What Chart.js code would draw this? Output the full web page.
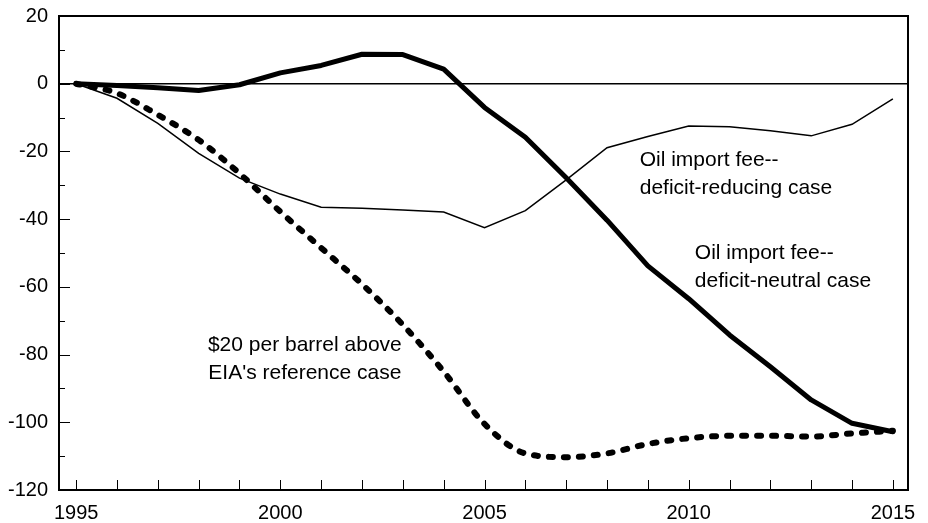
<!DOCTYPE html>
<html>
<head>
<meta charset="utf-8">
<script src="https://cdn.jsdelivr.net/npm/chart.js@4/dist/chart.umd.min.js"></script>
<style>
  html, body { margin: 0; padding: 0; background: #fff; }
</style>
</head>
<body>
<canvas id="lineCanvas" width="928" height="523"></canvas>
<script>
const years = [1995, 1996, 1997, 1998, 1999, 2000, 2001, 2002, 2003, 2004, 2005,
  2006, 2007, 2008, 2009, 2010, 2011, 2012, 2013, 2014, 2015];

// oil import fee, deficit-neutral case (thick line)
const deficitNeutral = [0, -0.5, -1.2, -2.0, -0.3, 3.2, 5.4, 8.7, 8.6, 4.3, -7.0,
  -15.8, -27.8, -40.3, -53.8, -63.5, -74.2, -83.6, -93.4, -100.3, -102.8];

// oil import fee, deficit-reducing case (thin line)
const deficitReducing = [0, -4.3, -11.7, -20.6, -27.9, -32.6, -36.5, -36.8, -37.3, -37.9, -42.5,
  -37.5, -28.4, -18.9, -15.6, -12.5, -12.7, -13.9, -15.4, -12.0, -4.5];

// $20 per barrel above EIA's reference case (dotted line)
const priceAbove = [0, -2.8, -9.2, -16.6, -26.5, -37.8, -48.5, -59.2, -71.2, -85.0, -100.5,
  -109.2, -110.3, -109.2, -106.4, -104.7, -104.0, -104.0, -104.2, -103.3, -102.5];

const xLabels = [1995, 2000, 2005, 2010, 2015];
const yLabels = [-120, -100, -80, -60, -40, -20, 0, 20];

const notes = [
  { lines: ["Oil import fee--", "deficit-reducing case"], x: 2008.8, y: -22.5, align: "left" },
  { lines: ["Oil import fee--", "deficit-neutral case"], x: 2010.15, y: -50, align: "left" },
  { lines: ["$20 per barrel above", "EIA's reference case"], x: 2000.6, y: -77.2, align: "center" },
];

const family = "'Liberation Sans', Arial, sans-serif";

const frameAndNotes = {
  id: "frameAndNotes",
  afterDraw(chart) {
    const { ctx, chartArea: a, scales: { x, y } } = chart;
    ctx.save();
    ctx.strokeStyle = "#000";

    // zero line
    const y0 = y.getPixelForValue(0);
    ctx.lineWidth = 1.5;
    ctx.beginPath();
    ctx.moveTo(a.left, y0);
    ctx.lineTo(a.right, y0);
    ctx.stroke();

    // inward tick marks
    ctx.lineWidth = 1;
    ctx.beginPath();
    x.ticks.forEach(t => {
      const px = Math.round(x.getPixelForValue(t.value)) + 0.5;
      ctx.moveTo(px, a.bottom);
      ctx.lineTo(px, a.bottom - 10);
    });
    y.ticks.forEach(t => {
      const py = Math.round(y.getPixelForValue(t.value)) + 0.5;
      const len = yLabels.includes(t.value) ? 11 : 6;
      ctx.moveTo(a.left, py);
      ctx.lineTo(a.left + len, py);
    });
    ctx.stroke();

    // box round the plot
    ctx.lineWidth = 2;
    ctx.strokeRect(a.left, a.top, a.right - a.left, a.bottom - a.top);

    // text notes
    ctx.fillStyle = "#000";
    ctx.font = "21px " + family;
    ctx.textBaseline = "middle";
    notes.forEach(n => {
      ctx.textAlign = n.align;
      const px = x.getPixelForValue(n.x);
      const py = y.getPixelForValue(n.y);
      n.lines.forEach((line, i) => ctx.fillText(line, px, py + i * 28));
    });
    ctx.restore();
  },
};

const lineChart = new Chart(document.getElementById("lineCanvas"), {
  type: "line",
  data: {
    datasets: [
      {
        label: "Oil import fee--deficit-reducing case",
        data: years.map((yr, i) => ({ x: yr, y: deficitReducing[i] })),
        borderColor: "#000",
        borderWidth: 1.5,
        pointRadius: 0,
        tension: 0,
      },
      {
        label: "Oil import fee--deficit-neutral case",
        data: years.map((yr, i) => ({ x: yr, y: deficitNeutral[i] })),
        borderColor: "#000",
        borderWidth: 5,
        borderJoinStyle: "round",
        borderCapStyle: "round",
        pointRadius: 0,
        tension: 0,
      },
      {
        label: "$20 per barrel above EIA's reference case",
        data: years.map((yr, i) => ({ x: yr, y: priceAbove[i] })),
        borderColor: "#000",
        borderWidth: 6,
        borderDash: [4, 11],
        borderCapStyle: "round",
        pointRadius: 0,
        cubicInterpolationMode: "monotone",
      },
    ],
  },
  options: {
    responsive: false,
    animation: false,
    devicePixelRatio: 1,
    layout: { padding: { top: 16, right: 20, left: 0, bottom: 0 } },
    plugins: { legend: { display: false }, tooltip: { enabled: false } },
    scales: {
      x: {
        type: "linear",
        min: 1994.58,
        max: 2015.37,
        afterFit: s => { s.height = 33; },
        border: { display: false },
        grid: { display: false, drawTicks: false },
        ticks: {
          stepSize: 1,
          includeBounds: false,
          autoSkip: false,
          maxRotation: 0,
          padding: 11,
          color: "#000",
          font: { family: family, size: 20 },
          callback: v => (xLabels.includes(v) ? String(v) : ""),
        },
      },
      y: {
        min: -120,
        max: 20,
        afterFit: s => { s.width = 59; s.paddingTop = 0; s.paddingBottom = 0; },
        border: { display: false },
        grid: { display: false, drawTicks: false },
        ticks: {
          stepSize: 10,
          autoSkip: false,
          padding: 11,
          color: "#000",
          font: { family: family, size: 20 },
          callback: v => (yLabels.includes(v) ? String(v) : ""),
        },
      },
    },
  },
  plugins: [frameAndNotes],
});
</script>
</body>
</html>
